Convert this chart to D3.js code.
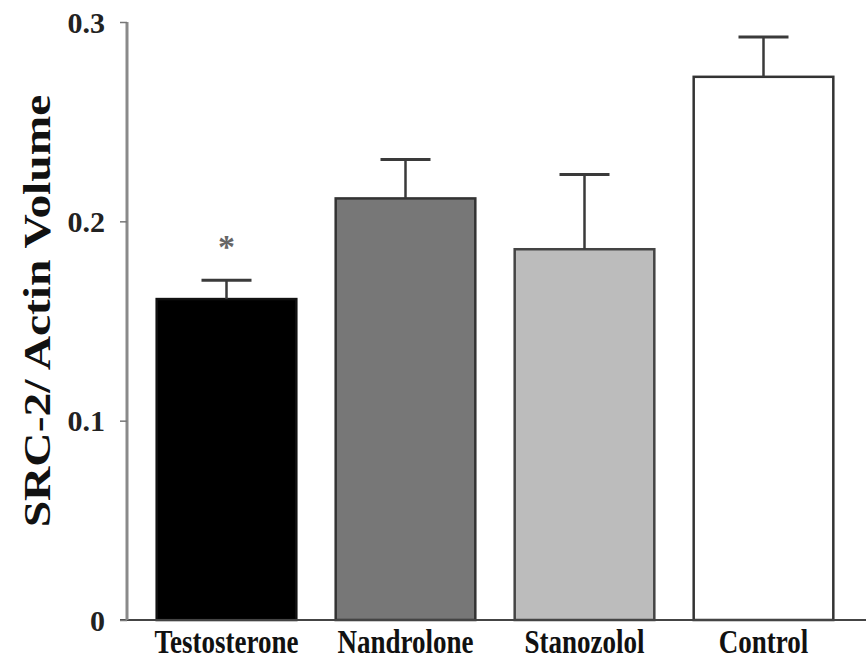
<!DOCTYPE html>
<html>
<head>
<meta charset="utf-8">
<script src="https://cdn.jsdelivr.net/npm/d3@7"></script>
<style>
  body { margin: 0; background: #fff; }
  text { font-family: "Liberation Serif", "DejaVu Serif", serif; font-weight: bold; }
</style>
</head>
<body>
<div id="chart"></div>
<script>
// values
var groups = ['Testosterone', 'Nandrolone', 'Stanozolol', 'Control'];
var means = [0.161, 0.2115, 0.186, 0.2725];
var errors = [0.0095, 0.0195, 0.0375, 0.020];
var significant = [true, false, false, false];
var yTicks = [0, 0.1, 0.2, 0.3];

var fills = ['#000000', '#777777', '#bcbcbc', '#ffffff'];
var strokes = ['#111111', '#333333', '#444444', '#333333'];

var width = 866, height = 662;
var x0 = 127, yBase = 620, yTop = 22;

var svg = d3.select('#chart')
  .append('svg')
  .attr('width', width)
  .attr('height', height);

var x = d3.scaleBand()
  .domain(groups)
  .range([137, 853])
  .paddingInner(0.22)
  .paddingOuter(0.11);

var y = d3.scaleLinear()
  .domain([0, 0.3])
  .range([yBase, yTop]);

// bars
svg.selectAll('.bar')
  .data(groups)
  .enter()
  .append('rect')
  .attr('class', 'bar')
  .attr('x', function (d) { return x(d); })
  .attr('y', function (d, i) { return y(means[i]); })
  .attr('width', x.bandwidth())
  .attr('height', function (d, i) { return yBase - y(means[i]); })
  .attr('fill', function (d, i) { return fills[i]; })
  .attr('stroke', function (d, i) { return strokes[i]; })
  .attr('stroke-width', 2.5);

// error bars (upper only)
var capHalf = 25;
var err = svg.selectAll('.err')
  .data(groups)
  .enter()
  .append('g')
  .attr('class', 'err')
  .attr('stroke', '#3a3a3a');

err.append('line')
  .attr('x1', function (d) { return x(d) + x.bandwidth() / 2; })
  .attr('x2', function (d) { return x(d) + x.bandwidth() / 2; })
  .attr('y1', function (d, i) { return y(means[i]); })
  .attr('y2', function (d, i) { return y(means[i] + errors[i]); })
  .attr('stroke-width', 2.5);

err.append('line')
  .attr('x1', function (d) { return x(d) + x.bandwidth() / 2 - capHalf; })
  .attr('x2', function (d) { return x(d) + x.bandwidth() / 2 + capHalf; })
  .attr('y1', function (d, i) { return y(means[i] + errors[i]); })
  .attr('y2', function (d, i) { return y(means[i] + errors[i]); })
  .attr('stroke-width', 3);

// significance mark
svg.selectAll('.star')
  .data(groups.filter(function (d, i) { return significant[i]; }))
  .enter()
  .append('text')
  .attr('class', 'star')
  .attr('x', function (d) { return x(d) + x.bandwidth() / 2; })
  .attr('y', function (d) { var i = groups.indexOf(d); return y(means[i] + errors[i]) - 22; })
  .attr('text-anchor', 'middle')
  .attr('font-size', 34)
  .attr('font-weight', 'normal')
  .attr('fill', '#666')
  .text('*');

// x axis line
svg.append('line')
  .attr('x1', 120).attr('x2', width)
  .attr('y1', yBase).attr('y2', yBase)
  .attr('stroke', '#444')
  .attr('stroke-width', 2);

// y axis
var yAxis = svg.append('g')
  .attr('transform', 'translate(' + x0 + ',0)')
  .call(d3.axisLeft(y).tickValues(yTicks).tickSize(7).tickPadding(15)
    .tickFormat(function (d) { return d === 0 ? '0' : d3.format('.1f')(d); }));

yAxis.select('.domain')
  .attr('stroke', '#8a8a8a')
  .attr('stroke-width', 3)
  .attr('d', 'M0,' + yTop + 'V' + yBase);
yAxis.selectAll('.tick line').attr('stroke', '#777').attr('stroke-width', 1.5);
yAxis.selectAll('.tick text')
  .attr('font-family', '"Liberation Serif", serif')
  .attr('font-weight', 'bold')
  .attr('font-size', 30)
  .attr('fill', '#222')
  .attr('dy', '0.34em');

// category labels, stretched vertically like the source image
svg.selectAll('.xlab')
  .data(groups)
  .enter()
  .append('text')
  .attr('class', 'xlab')
  .attr('transform', function (d) {
    return 'translate(' + (x(d) + x.bandwidth() / 2) + ',653) scale(1,1.25)';
  })
  .attr('text-anchor', 'middle')
  .attr('font-size', 27)
  .attr('fill', '#111')
  .text(function (d) { return d; });

// y title
svg.append('text')
  .attr('transform', 'translate(50,311) scale(1,1.25) rotate(-90)')
  .attr('text-anchor', 'middle')
  .attr('font-size', 38)
  .attr('fill', '#111')
  .text('SRC-2/ Actin Volume');
</script>
</body>
</html>
